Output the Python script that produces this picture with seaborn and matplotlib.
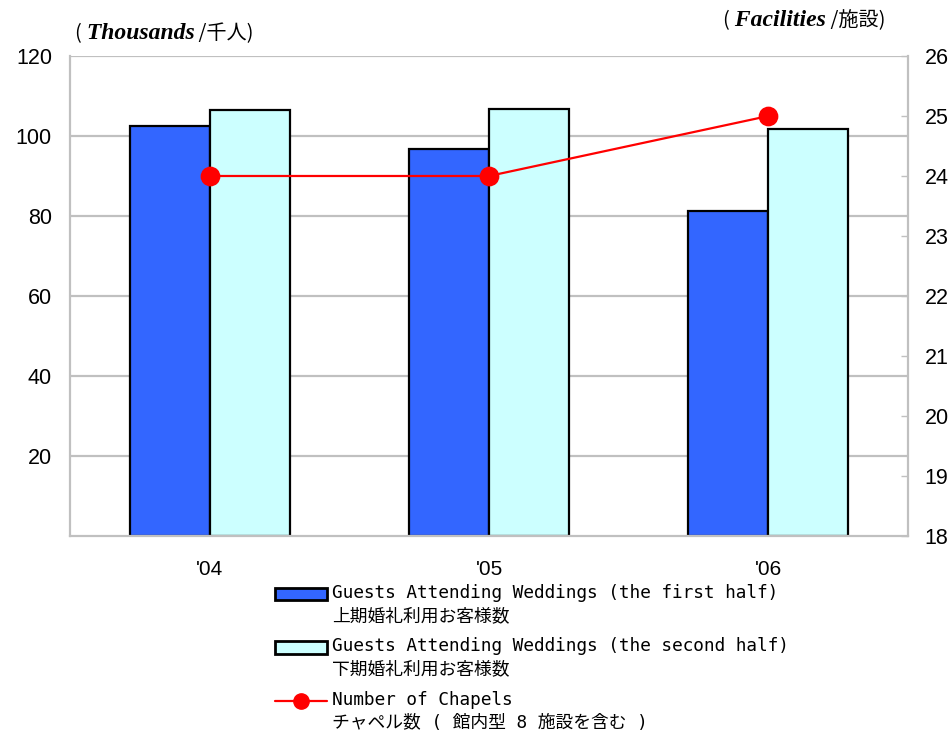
import matplotlib
matplotlib.use('Agg')
import matplotlib.pyplot as plt
import seaborn as sns
import pandas as pd
from matplotlib.patches import Patch
from matplotlib.lines import Line2D
from matplotlib.legend_handler import HandlerPatch, HandlerLine2D
from matplotlib.font_manager import FontProperties

# ---- data ----
years = ["'04", "'05", "'06"]
first_half = [102.5, 96.8, 81.2]
second_half = [106.6, 106.8, 101.8]
chapels = [24, 24, 25]
series_labels = [
    "Guests Attending Weddings (the first half)\n上期婚礼利用お客様数",
    "Guests Attending Weddings (the second half)\n下期婚礼利用お客様数",
    "Number of Chapels\nチャペル数 ( 館内型 8 施設を含む )",
]
left_ticks = [20, 40, 60, 80, 100, 120]
right_ticks = [18, 19, 20, 21, 22, 23, 24, 25, 26]

BLUE = '#3366FF'
CYAN = '#CCFFFF'
RED = '#FF0000'
GRAY = '#C0C0C0'

sns.set_theme(style='white')
plt.rcParams['font.family'] = ['Liberation Sans', 'Noto Sans CJK JP']
plt.rcParams['text.color'] = 'black'
plt.rcParams['xtick.color'] = 'black'
plt.rcParams['ytick.color'] = 'black'
plt.rcParams['axes.labelcolor'] = 'black'

fig = plt.figure(figsize=(9.53, 7.32), dpi=100)
ax = fig.add_axes([0.0735, 0.2678, 0.8794, 0.6557])

df = pd.DataFrame({
    'year': years * 2,
    'value': first_half + second_half,
    'half': [series_labels[0]] * len(years) + [series_labels[1]] * len(years),
})
sns.barplot(data=df, x='year', y='value', hue='half', palette=[BLUE, CYAN],
            width=0.573, gap=0, edgecolor='black', linewidth=1.6,
            saturation=1, legend=False, ax=ax)
ax.set_xlim(-0.5, len(years) - 0.5)
ax.set_ylim(0, 120)
ax.set_yticks(left_ticks)
ax.set_xlabel('')
ax.set_ylabel('')
ax.yaxis.grid(True, color=GRAY, linewidth=1.6)
ax.xaxis.grid(False)
ax.set_axisbelow(True)
for s in ['top', 'right']:
    ax.spines[s].set_visible(False)
for s in ['left', 'bottom']:
    ax.spines[s].set_color(GRAY)
    ax.spines[s].set_linewidth(1.6)
ax.tick_params(axis='y', length=0, labelsize=15.5, pad=13, labelcolor='black')
ax.tick_params(axis='x', which='major', length=0, labelsize=15, pad=17, labelcolor='black')
ax.set_xticks([0.5, 1.5], minor=True)
ax.tick_params(axis='x', which='minor', length=7, direction='inout', color=GRAY, width=1.2)

ax2 = ax.twinx()
sns.pointplot(x=years, y=chapels, ax=ax2, color=RED, markers='o',
              markersize=13, linewidth=1.6)
ax2.set_ylim(18, 26)
ax2.set_yticks(right_ticks)
ax2.set_xlim(-0.5, len(years) - 0.5)
ax2.grid(False)
for s in ['top', 'left', 'bottom']:
    ax2.spines[s].set_visible(False)
ax2.spines['right'].set_color(GRAY)
ax2.spines['right'].set_linewidth(1.6)
ax2.tick_params(axis='y', direction='in', length=5, color=GRAY, width=1.0,
                labelsize=15.5, pad=12, labelcolor='black')

# ---- axis unit labels ----
def compose(x, y, pieces):
    s, kw = pieces[0]
    t = fig.text(x, y, s, va='baseline', ha='left', color='black', **kw)
    for s, kw in pieces[1:]:
        t = ax.annotate(s, xy=(1, 0), xycoords=t, va='bottom', ha='left',
                        annotation_clip=False, color='black', **kw)
    return t

cjk = dict(family=['Noto Sans CJK JP'], fontsize=14.5)
serif_bi = dict(family=['Liberation Serif'], fontsize=17, fontweight='bold', fontstyle='italic')
compose(74 / 953, 1 - 39 / 732, [('(', cjk), (' Thousands', serif_bi), (' /千人)', cjk)])
compose(722 / 953, 1 - 26 / 732, [('(', cjk), (' Facilities', serif_bi), (' /施設)', cjk)])

# ---- legend ----
class TopPatch(HandlerPatch):
    def __init__(self, dy, **kw):
        super().__init__(**kw)
        self.dy = dy

    def create_artists(self, legend, orig_handle, xdescent, ydescent, width, height, fontsize, trans):
        return super().create_artists(legend, orig_handle, xdescent, ydescent - self.dy,
                                      width, height, fontsize, trans)


class TopLine(HandlerLine2D):
    def __init__(self, dy, **kw):
        super().__init__(**kw)
        self.dy = dy

    def create_artists(self, legend, orig_handle, xdescent, ydescent, width, height, fontsize, trans):
        return super().create_artists(legend, orig_handle, xdescent, ydescent - 2 * self.dy,
                                      width, height, fontsize, trans)

h1 = Patch(facecolor=BLUE, edgecolor='black', linewidth=2)
h2 = Patch(facecolor=CYAN, edgecolor='black', linewidth=2)
h3 = Line2D([], [], color=RED, linewidth=1.6, marker='o', markersize=11)
DY = 8.0
fp = FontProperties(family=['DejaVu Sans Mono', 'Noto Sans CJK JP'], size=12.8)
leg = fig.legend([h1, h2, h3], series_labels, loc='upper left',
                 bbox_to_anchor=(275 / 953, 1 - 584 / 732), frameon=False, prop=fp,
                 handlelength=2.9, handleheight=0.7, handletextpad=0.3,
                 labelspacing=0.7, borderpad=0, borderaxespad=0,
                 handler_map={h1: TopPatch(DY), h2: TopPatch(DY), h3: TopLine(DY)})
for t in leg.get_texts():
    t.set_linespacing(1.35)
    t.set_color('black')

fig.savefig('out.png', dpi=100)
